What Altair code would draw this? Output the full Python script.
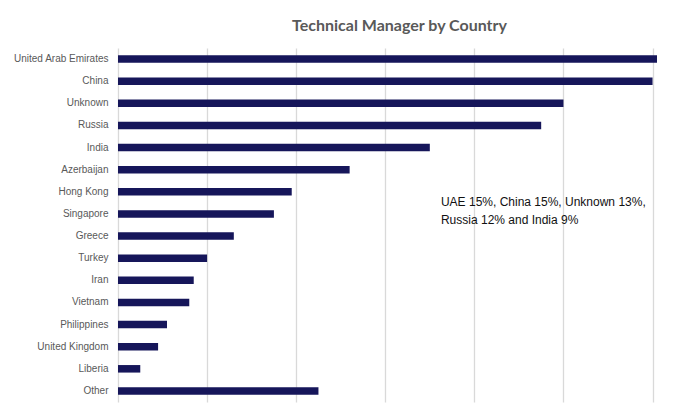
import altair as alt
import pandas as pd

countries = ["United Arab Emirates", "China", "Unknown", "Russia", "India",
             "Azerbaijan", "Hong Kong", "Singapore", "Greece", "Turkey", "Iran",
             "Vietnam", "Philippines", "United Kingdom", "Liberia", "Other"]
counts = [121, 120, 100, 95, 70, 52, 39, 35, 26, 20, 17, 16, 11, 9, 5, 45]
grid_ticks = [0, 20, 40, 60, 80, 100, 120]
note_lines = ["UAE 15%, China 15%, Unknown 13%,", "Russia 12% and India 9%"]
note_x = [72.5]
note_y = ["Singapore"]
title_text = "Technical Manager by Country"

df = pd.DataFrame({"country": countries, "count": counts})
note_df = pd.DataFrame({"x": note_x, "y": note_y, "text": ["\n".join(note_lines)]})

x_scale = alt.Scale(domain=[0, 121], nice=False, zero=True)
y_scale = alt.Scale(domain=countries, paddingInner=0.66, paddingOuter=0.33)

bars = alt.Chart(df).mark_bar(color="#16165a").encode(
    x=alt.X("count:Q", scale=x_scale,
            axis=alt.Axis(values=grid_ticks, labels=False, ticks=False, domain=False,
                          grid=True, gridColor="#d9d9d9", gridWidth=1.3, title=None)),
    y=alt.Y("country:N", scale=y_scale, sort=countries,
            axis=alt.Axis(title=None, ticks=False, domain=False, grid=False,
                          labelFont="Liberation Sans", labelFontSize=10,
                          labelColor="#595959", labelPadding=10)),
)

note = alt.Chart(note_df).mark_text(
    align="left", baseline="middle", lineBreak="\n", lineHeight=18,
    font="Liberation Sans", fontSize=12, color="#111111", dy=-12
).encode(
    x=alt.X("x:Q", scale=x_scale),
    y=alt.Y("y:N", scale=y_scale, sort=countries),
    text="text:N",
)

chart = alt.layer(bars, note).properties(
    width=539, height=354,
    autosize=alt.AutoSizeParams(type="none"),
    padding={"left": 110, "top": 40, "right": 30, "bottom": 2},
    background="white",
    title=alt.Title(title_text, fontSize=16, font="Lato", fontWeight="bold",
                    color="#595959", anchor="middle", dx=12, offset=1,
                    baseline="alphabetic"),
).configure_view(stroke=None)

chart.save("out.html", embed_options={"renderer": "svg", "actions": False})
